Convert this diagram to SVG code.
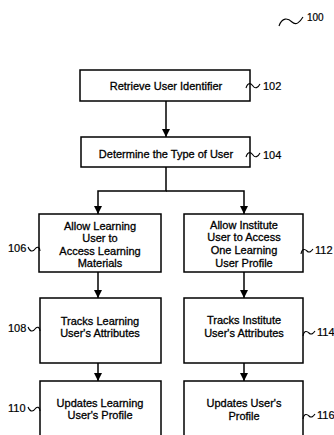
<svg xmlns="http://www.w3.org/2000/svg" width="334" height="435" viewBox="0 0 334 435">
<defs>
<marker id="ah" markerWidth="8" markerHeight="8" refX="8" refY="4" orient="auto" markerUnits="userSpaceOnUse">
<path d="M0,0 L8,4 L0,8 Z" fill="#000"/>
</marker>
<style>
.box{fill:#fff;stroke:#000;stroke-width:1.5}
.t{font-family:"Liberation Sans",Arial,sans-serif;font-size:11px;fill:#000;stroke:#000;stroke-width:0.3;text-anchor:middle}
.lbl{font-family:"Liberation Sans",Arial,sans-serif;font-size:11px;fill:#000;stroke:#000;stroke-width:0.2}
.conn{fill:none;stroke:#000;stroke-width:1.5}
.tl{fill:none;stroke:#000;stroke-width:1.1}
</style>
</defs>
<rect width="334" height="435" fill="#fff"/>
<g id="ref100">
<path class="tl" d="M279,26 C282,17 288,18 292,22 C296,26 300,22 303,17"/>
<text class="lbl" x="307" y="21" style="font-size:10px">100</text>
</g>
<g id="connectors">
<line class="conn" x1="166" y1="101" x2="166" y2="137" marker-end="url(#ah)"/>
<polyline class="conn" points="166,167 166,191 98,191 98,214" marker-end="url(#ah)"/>
<polyline class="conn" points="166,191 244,191 244,214" marker-end="url(#ah)"/>
<line class="conn" x1="98" y1="272" x2="98" y2="298" marker-end="url(#ah)"/>
<line class="conn" x1="244" y1="272" x2="244" y2="298" marker-end="url(#ah)"/>
<line class="conn" x1="98" y1="363" x2="98" y2="381" marker-end="url(#ah)"/>
<line class="conn" x1="244" y1="363" x2="244" y2="381" marker-end="url(#ah)"/>
</g>
<g id="n102">
<rect class="box" x="80" y="70" width="170" height="31"/>
<text class="t" x="166" y="90">Retrieve User Identifier</text>
<path class="tl" d="M246,88 C248,82 251,83 253,86 C255,89 258,88 260,84"/>
<text class="lbl" x="263" y="90">102</text>
</g>
<g id="n104">
<rect class="box" x="81" y="137" width="169" height="30"/>
<text class="t" x="166" y="158">Determine the Type of User</text>
<path class="tl" d="M246,157 C248,151 251,152 253,155 C255,158 258,157 260,153"/>
<text class="lbl" x="263" y="159">104</text>
</g>
<g id="n106">
<rect class="box" x="39" y="214" width="122" height="58"/>
<text class="t" x="100" y="230">Allow Learning</text>
<text class="t" x="100" y="242">User to</text>
<text class="t" x="100" y="255">Access Learning</text>
<text class="t" x="100" y="267">Materials</text>
<text class="lbl" x="8" y="252">106</text>
<path class="tl" d="M28,247 C30,252 33,252 35,249 C37,246 40,247 40,251"/>
</g>
<g id="n112">
<rect class="box" x="184" y="214" width="119" height="58"/>
<text class="t" x="244" y="229">Allow Institute</text>
<text class="t" x="244" y="241">User to Access</text>
<text class="t" x="244" y="254">One Learning</text>
<text class="t" x="244" y="267">User Profile</text>
<path class="tl" d="M301,254 C302,248 305,249 307,251 C309,253 311,252 313,249"/>
<text class="lbl" x="315" y="254">112</text>
</g>
<g id="n108">
<rect class="box" x="40" y="298" width="121" height="65"/>
<text class="t" x="100" y="325">Tracks Learning</text>
<text class="t" x="100" y="337">User's Attributes</text>
<text class="lbl" x="8" y="332">108</text>
<path class="tl" d="M28,327 C30,332 33,332 35,329 C37,326 40,327 40,331"/>
</g>
<g id="n114">
<rect class="box" x="184" y="298" width="119" height="65"/>
<text class="t" x="244" y="324">Tracks Institute</text>
<text class="t" x="244" y="337">User's Attributes</text>
<path class="tl" d="M303,336 C304,330 307,331 309,333 C311,335 313,334 315,331"/>
<text class="lbl" x="317" y="336">114</text>
</g>
<g id="n110">
<rect class="box" x="40" y="381" width="121" height="70"/>
<text class="t" x="100" y="407">Updates Learning</text>
<text class="t" x="100" y="419">User's Profile</text>
<text class="lbl" x="8" y="412">110</text>
<path class="tl" d="M28,407 C30,412 33,412 35,409 C37,406 40,407 40,411"/>
</g>
<g id="n116">
<rect class="box" x="184" y="381" width="119" height="70"/>
<text class="t" x="244" y="407">Updates User's</text>
<text class="t" x="244" y="420">Profile</text>
<path class="tl" d="M303,419 C304,413 307,414 309,416 C311,418 313,417 315,414"/>
<text class="lbl" x="317" y="419">116</text>
</g>
</svg>
